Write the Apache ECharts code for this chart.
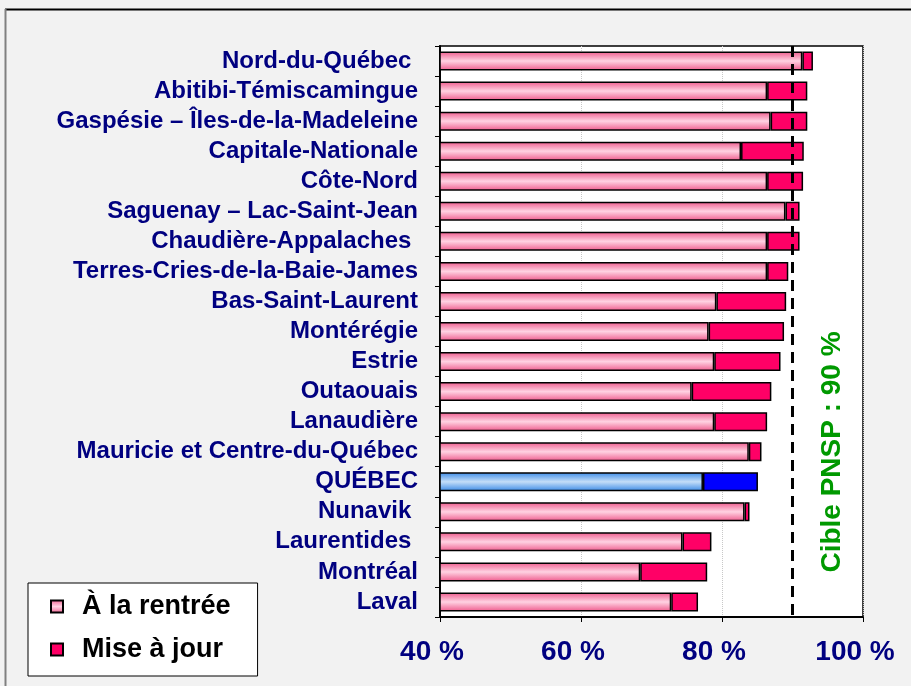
<!DOCTYPE html>
<html style="height: 100%">
<head>
<meta charset="utf-8">
</head>
<body style="height: 100%; margin: 0">
<div id="container" style="width: 911px; height: 686px;"></div>
<script type="text/javascript" src="https://cdn.jsdelivr.net/npm/echarts@6/dist/echarts.min.js"></script>
<script type="text/javascript">
var categories = ['Nord-du-Québec ', 'Abitibi-Témiscamingue', 'Gaspésie – Îles-de-la-Madeleine', 'Capitale-Nationale',
    'Côte-Nord', 'Saguenay – Lac-Saint-Jean', 'Chaudière-Appalaches ', 'Terres-Cries-de-la-Baie-James',
    'Bas-Saint-Laurent', 'Montérégie', 'Estrie', 'Outaouais', 'Lanaudière', 'Mauricie et Centre-du-Québec',
    'QUÉBEC', 'Nunavik ', 'Laurentides ', 'Montréal', 'Laval'];
var rentree = [91.4, 86.4, 86.9, 82.7, 86.4, 89.0, 86.4, 86.4, 79.2, 78.1, 78.9, 75.7, 78.9, 83.8, 77.3, 83.2, 74.4, 68.4, 72.8];
var miseAJour = [1.5, 5.7, 5.2, 8.9, 5.1, 2.0, 4.6, 3.0, 9.9, 10.7, 9.4, 11.3, 7.5, 1.8, 7.8, 0.7, 4.1, 9.5, 3.8];
var xTicks = [40, 60, 80, 100];
var cible = 90;
var quebecIndex = 14;

var font = '"Liberation Sans", Arial, sans-serif';

var pinkGrad = new echarts.graphic.LinearGradient(0, 0, 0, 1, [
    { offset: 0, color: '#ee5a8c' },
    { offset: 0.5, color: '#ffd2e2' },
    { offset: 1, color: '#ee5a8c' }
]);
var blueGrad = new echarts.graphic.LinearGradient(0, 0, 0, 1, [
    { offset: 0, color: '#3a8ae6' },
    { offset: 0.5, color: '#c4def8' },
    { offset: 1, color: '#3a8ae6' }
]);

var dom = document.getElementById('container');
var myChart = echarts.init(dom);

var rentreeData = rentree.map(function (v, i) {
    return i === quebecIndex ? { value: v, itemStyle: { color: blueGrad } } : v;
});
var majData = miseAJour.map(function (v, i) {
    return i === quebecIndex ? { value: v, itemStyle: { color: '#0000ff' } } : v;
});

var option = {
    backgroundColor: '#f2f2f2',
    animation: false,
    textStyle: { fontFamily: font },
    graphic: [
        { type: 'line', shape: { x1: 5, y1: 9.5, x2: 911, y2: 9.5 }, style: { stroke: '#000', lineWidth: 2 } },
        { type: 'line', shape: { x1: 5.5, y1: 9, x2: 5.5, y2: 686 }, style: { stroke: '#808080', lineWidth: 2 } },
        {
            type: 'text',
            x: 832, y: 452,
            rotation: Math.PI / 2,
            style: {
                text: 'Cible PNSP : ' + cible + ' %',
                fill: '#009900',
                font: 'bold 28px ' + font,
                align: 'center',
                verticalAlign: 'middle'
            }
        }
    ],
    legend: {
        orient: 'vertical',
        left: 28,
        top: 583,
        backgroundColor: '#fff',
        borderColor: '#000',
        borderWidth: 1,
        padding: [10, 27, 13, 22],
        itemGap: 16,
        itemWidth: 12,
        itemHeight: 12,
        icon: 'rect',
        textStyle: { fontSize: 27, fontWeight: 'bold', color: '#000', fontFamily: font, padding: [0, 0, 0, 14] },
        data: ['À la rentrée', 'Mise à jour']
    },
    grid: {
        left: 440,
        right: 48,
        top: 46,
        bottom: 69,
        show: true,
        backgroundColor: '#fff',
        borderColor: '#000',
        borderWidth: 1.5,
        containLabel: false
    },
    xAxis: {
        type: 'value',
        min: xTicks[0],
        max: xTicks[xTicks.length - 1],
        interval: 20,
        axisLine: { show: true, lineStyle: { color: '#000', width: 2 } },
        axisTick: { show: true, length: 5, lineStyle: { color: '#000' } },
        splitLine: { show: true, lineStyle: { color: '#c8c8c8', type: 'dotted' } },
        axisLabel: {
            formatter: '{value} %',
            color: '#000080',
            fontSize: 28,
            fontWeight: 'bold',
            margin: 21,
            padding: [0, 16, 0, 0],
            fontFamily: font
        }
    },
    yAxis: {
        type: 'category',
        inverse: true,
        data: categories,
        axisLine: { show: true, lineStyle: { color: '#000', width: 2 } },
        axisTick: { show: true, length: 5, interval: 0, lineStyle: { color: '#000' } },
        axisLabel: {
            interval: 0,
            hideOverlap: false,
            color: '#000080',
            fontSize: 24,
            fontWeight: 'bold',
            margin: 22,
            fontFamily: font
        }
    },
    series: [
        {
            name: 'À la rentrée',
            type: 'bar',
            stack: 'total',
            barWidth: 19,
            data: rentreeData,
            itemStyle: { color: pinkGrad, borderColor: '#000', borderWidth: 1.5 }
        },
        {
            name: 'Mise à jour',
            type: 'bar',
            stack: 'total',
            barWidth: 19,
            data: majData,
            itemStyle: { color: '#ff0066', borderColor: '#000', borderWidth: 1.5 },
            markLine: {
                silent: true,
                symbol: 'none',
                label: { show: false },
                lineStyle: { color: '#000', type: [11, 7], width: 3 },
                data: [{ xAxis: cible }]
            }
        }
    ]
};

myChart.setOption(option);
</script>
</body>
</html>
